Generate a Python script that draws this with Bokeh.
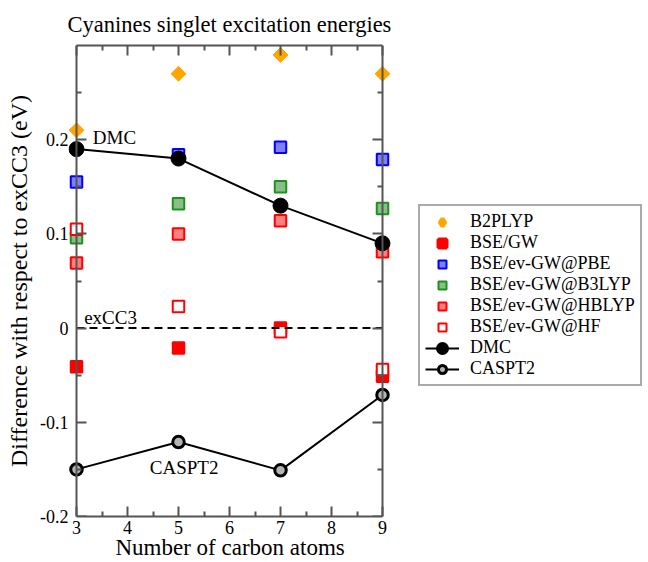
import numpy as np
from bokeh.plotting import figure
from bokeh.models import (Range1d, LinearAxis, FixedTicker, Legend, LegendItem,
                          Label, Title)
from bokeh.embed import file_html
from bokeh.resources import INLINE

# ---------------- data ----------------
n_carbon = [3, 5, 7, 9]
b2plyp   = [0.210, 0.270, 0.290, 0.270]
bse_gw   = [-0.041, -0.021, 0.000, -0.051]
ev_pbe   = [0.155, 0.184, 0.192, 0.179]
ev_b3lyp = [0.096, 0.132, 0.150, 0.127]
ev_hblyp = [0.069, 0.100, 0.114, 0.081]
ev_hf    = [0.105, 0.023, -0.004, -0.044]
dmc      = [0.190, 0.180, 0.130, 0.090]
caspt2   = [-0.150, -0.121, -0.151, -0.071]
excc3_ref = 0.0

x_major = [3, 4, 5, 6, 7, 8, 9]
x_minor = [3.5, 4.5, 5.5, 6.5, 7.5, 8.5]
x_labels = ["3", "4", "5", "6", "7", "8", "9"]
y_major = [-0.2, -0.1, 0.0, 0.1, 0.2]
y_labels = ["-0.2", "-0.1", "0", "0.1", "0.2"]
y_minor = [-0.15, -0.05, 0.05, 0.15, 0.25]

title_text = "Cyanines singlet excitation energies"
x_title = "Number of carbon atoms"
y_title = "Difference with respect to exCC3 (eV)"

# ---------------- layout / style ----------------
FONT = "Liberation Serif"
AX = "#555555"
W, H = 648, 562
LEFT, TOP, BOTTOM = 68, 43, 46
PAD_PX = 8                      # room left of x=3 so edge markers are not clipped
PPU = 51.0                      # pixels per carbon atom on the x axis
x_lo, x_hi = 3, 9
y_lo, y_hi = -0.2, 0.3
frame_w = W - LEFT
x_start = x_lo - PAD_PX / PPU
x_end = x_start + frame_w / PPU

p = figure(width=W, height=H,
           x_range=Range1d(x_start, x_end), y_range=Range1d(y_lo, y_hi),
           output_backend="svg", toolbar_location=None,
           min_border_left=LEFT, min_border_right=0,
           min_border_top=TOP, min_border_bottom=BOTTOM,
           background_fill_color="white", border_fill_color="white")
p.outline_line_color = None
p.xgrid.visible = False
p.ygrid.visible = False

p.title.text = title_text
p.title.align = "left"
p.title.offset = -1
p.title.text_font = FONT
p.title.text_font_size = "22.5px"
p.title.text_font_style = "normal"
p.title.text_color = "black"
p.title.standoff = 18


def style_axis(ax):
    ax.axis_line_color = AX
    ax.axis_line_width = 2
    ax.major_tick_line_color = AX
    ax.major_tick_line_width = 2
    ax.minor_tick_line_color = AX
    ax.minor_tick_line_width = 2
    ax.major_tick_in = 10
    ax.major_tick_out = 0
    ax.minor_tick_in = 5
    ax.minor_tick_out = 0
    ax.major_label_text_font = FONT
    ax.major_label_text_font_size = "18px"
    ax.major_label_text_color = "black"


def ticks_only(ax, ticks):
    ax.major_label_overrides = {t: "" for t in ticks}
    ax.major_label_text_font_size = "0px"
    ax.major_label_standoff = 0


y_ticker = FixedTicker(ticks=y_major, minor_ticks=y_minor)
x_ticker = FixedTicker(ticks=x_major, minor_ticks=x_minor)

# bottom axis: line, ticks and labels, limited to 3..9
xb = p.below[0]
style_axis(xb)
xb.ticker = x_ticker
xb.bounds = (x_lo, x_hi)
xb.major_label_overrides = {t: l for t, l in zip(x_major, x_labels)}
xb.major_label_standoff = 4

# x title, placed under the 3..9 span
p.add_layout(Title(text=x_title, align="left", offset=47, vertical_align="top",
                   standoff=-4, text_font=FONT, text_font_size="23px",
                   text_font_style="normal", text_color="black"), "below")

# left axis (at frame edge): only tick labels and title
yl = p.left[0]
style_axis(yl)
yl.ticker = y_ticker
yl.major_label_overrides = {t: l for t, l in zip(y_major, y_labels)}
yl.axis_line_color = None
yl.major_tick_line_color = None
yl.minor_tick_line_color = None
yl.major_label_standoff = 0
yl.axis_label = y_title
yl.axis_label_text_font = FONT
yl.axis_label_text_font_size = "24px"
yl.axis_label_text_font_style = "normal"
yl.axis_label_text_color = "black"
yl.axis_label_standoff = 5

# tick-only axes: at x=3, at x=9 and along the top
yl2 = LinearAxis(ticker=y_ticker, fixed_location=x_lo)
style_axis(yl2)
ticks_only(yl2, y_major)
p.add_layout(yl2, "left")

yr = LinearAxis(ticker=y_ticker, fixed_location=x_hi)
style_axis(yr)
ticks_only(yr, y_major)
p.add_layout(yr, "right")

xt = LinearAxis(ticker=x_ticker, bounds=(x_lo, x_hi))
style_axis(xt)
ticks_only(xt, x_major)
p.add_layout(xt, "above")

# ---------------- glyphs ----------------
SQ = 11.5
ORANGE = "#ffa500"
RED = "#ff0000"

# legend swatches: tiny copies hidden under the real markers, with thicker
# outlines so the (small) legend markers read like the plotted ones
lg_b2 = p.scatter(n_carbon, b2plyp, marker="diamond", size=1,
                  fill_color=ORANGE, line_color=ORANGE, line_width=4)
lg_gw = p.scatter(n_carbon, bse_gw, marker="square", size=1,
                  fill_color=RED, line_color=RED, line_width=4)
lg_dmc = p.scatter(n_carbon, dmc, marker="circle", size=1,
                   fill_color="black", line_color="black", line_width=5)

r_b2 = p.scatter(n_carbon, b2plyp, marker="square", angle=np.pi / 4, size=10.5,
                 fill_color=ORANGE, line_color=ORANGE, line_width=1)
r_gw = p.scatter(n_carbon, bse_gw, marker="square", size=SQ,
                 fill_color=RED, line_color=RED, line_width=2)
r_pbe = p.scatter(n_carbon, ev_pbe, marker="square", size=SQ,
                  fill_color="#7f7ff8", line_color="#0000ff", line_width=2)
r_b3 = p.scatter(n_carbon, ev_b3lyp, marker="square", size=SQ,
                 fill_color="#8cbc8c", line_color="#1a941a", line_width=2)
r_hb = p.scatter(n_carbon, ev_hblyp, marker="square", size=SQ,
                 fill_color="#ff8080", line_color=RED, line_width=2)
r_hf = p.scatter(n_carbon, ev_hf, marker="square", size=SQ,
                 fill_color="white", line_color=RED, line_width=2)

p.line([min(n_carbon), max(n_carbon)], [excc3_ref, excc3_ref],
       line_color="black", line_width=2, line_dash="8 5")

r_dmc_l = p.line(n_carbon, dmc, line_color="black", line_width=2)
r_dmc_p = p.scatter(n_carbon, dmc, marker="circle", size=15,
                    fill_color="black", line_color="black", line_width=1)
r_cas_l = p.line(n_carbon, caspt2, line_color="black", line_width=2)
r_cas_p = p.scatter(n_carbon, caspt2, marker="circle", size=11.5,
                    fill_color="#b4b4b4", line_color="black", line_width=3)

# ---------------- annotations ----------------
ann = dict(text_font=FONT, text_font_size="19px", text_color="black",
           text_baseline="middle")
p.add_layout(Label(x=3.32, y=0.202, text="DMC", text_align="left", **ann))
p.add_layout(Label(x=3.15, y=0.011, text="exCC3", text_align="left", **ann))
p.add_layout(Label(x=5.11, y=-0.148, text="CASPT2", text_align="center", **ann))

# ---------------- legend ----------------
items = [
    LegendItem(label="B2PLYP", renderers=[lg_b2]),
    LegendItem(label="BSE/GW", renderers=[lg_gw]),
    LegendItem(label="BSE/ev-GW@PBE", renderers=[r_pbe]),
    LegendItem(label="BSE/ev-GW@B3LYP", renderers=[r_b3]),
    LegendItem(label="BSE/ev-GW@HBLYP", renderers=[r_hb]),
    LegendItem(label="BSE/ev-GW@HF", renderers=[r_hf]),
    LegendItem(label="DMC", renderers=[r_dmc_l, lg_dmc]),
    LegendItem(label="CASPT2", renderers=[r_cas_l, r_cas_p]),
]
legend = Legend(items=items, location=(350, 130), orientation="vertical",
                border_line_color=AX, border_line_width=2,
                background_fill_color="white", background_fill_alpha=1,
                label_text_font=FONT, label_text_font_size="18px",
                label_text_color="black",
                glyph_width=34, glyph_height=20, label_height=20,
                spacing=0, padding=5, margin=0, label_standoff=11)
p.add_layout(legend, "center")

open("out.html", "w").write(file_html(p, INLINE))
